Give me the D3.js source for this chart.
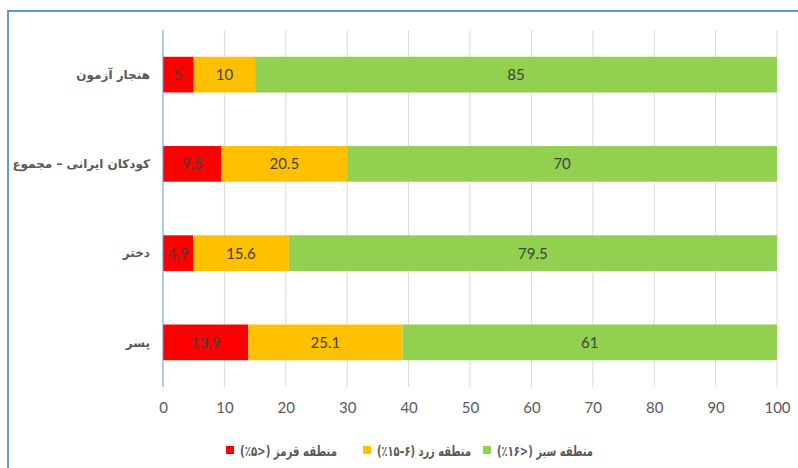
<!DOCTYPE html>
<html lang="fa">
<head>
  <meta charset="UTF-8">
  <title>مناطق</title>
  <script src="https://d3js.org/d3.v7.min.js"></script>
  <style>
    body { margin: 0; background: #fff; }
    svg { display: block; }
  </style>
</head>
<body>
  <svg width="798" height="468"></svg>

  <script>
    const categories = ["هنجار آزمون", "کودکان ایرانی – مجموع", "دختر", "پسر"];
    const redZone = [5, 9.5, 4.9, 13.9];
    const yellowZone = [10, 20.5, 15.6, 25.1];
    const greenZone = [85, 70, 79.5, 61];
    const seriesNames = ["منطقه قرمز (<۵٪)", "منطقه زرد (۶–۱۵٪)", "منطقه سبز (<۱۶٪)"];
    const xTicks = [0, 10, 20, 30, 40, 50, 60, 70, 80, 90, 100];

    const svg = d3.select("svg");
    const colors = ["#ff0000", "#ffc000", "#92d050"];
    const numFont = "Lato, 'Open Sans', sans-serif";

    // marco azul del gráfico
    svg.append("rect")
      .attr("x", 8).attr("y", 11)
      .attr("width", 800).attr("height", 470)
      .attr("fill", "none")
      .attr("stroke", "#5b9bd5")
      .attr("stroke-width", 2);

    const x = d3.scaleLinear().domain([0, 100]).range([163, 777]);
    const y = d3.scaleBand().domain(categories).range([30, 387]).paddingInner(0.6).paddingOuter(0.3);

    const rows = categories.map((c, i) => ({ cat: c, red: redZone[i], yellow: yellowZone[i], green: greenZone[i] }));
    const stack = d3.stack().keys(["red", "yellow", "green"])(rows);

    // grid
    svg.append("g")
      .selectAll("line")
      .data(xTicks.slice(1))
      .join("line")
      .attr("x1", d => x(d)).attr("x2", d => x(d))
      .attr("y1", 30).attr("y2", 387)
      .attr("stroke", "#d9d9d9")
      .attr("stroke-width", 1);

    const layer = svg.append("g")
      .selectAll("g")
      .data(stack)
      .join("g")
      .attr("fill", (d, i) => colors[i]);

    layer.selectAll("rect")
      .data(d => d)
      .join("rect")
      .attr("x", d => x(d[0]))
      .attr("width", d => x(d[1]) - x(d[0]))
      .attr("y", d => y(d.data.cat))
      .attr("height", y.bandwidth());

    layer.selectAll("text")
      .data(d => d.map(v => ({ v, val: v[1] - v[0] })))
      .join("text")
      .attr("x", d => (x(d.v[0]) + x(d.v[1])) / 2)
      .attr("y", d => y(d.v.data.cat) + y.bandwidth() / 2)
      .attr("dy", "0.36em")
      .attr("text-anchor", "middle")
      .attr("fill", "#404040")
      .attr("font-family", numFont)
      .attr("font-size", 15)
      .text(d => +d.val.toFixed(1));

    // eje vertical
    svg.append("line")
      .attr("x1", x(0)).attr("x2", x(0))
      .attr("y1", 30).attr("y2", 387)
      .attr("stroke", "#5b9bd5")
      .attr("stroke-width", 1);

    // etiquetas de categoría
    svg.append("g")
      .selectAll("text")
      .data(categories)
      .join("text")
      .attr("x", 150)
      .attr("y", d => y(d) + y.bandwidth() / 2)
      .attr("dy", "0.36em")
      .attr("text-anchor", "end")
      .attr("fill", "#595959")
      .attr("font-family", "'DejaVu Sans', sans-serif")
      .attr("font-weight", "bold")
      .attr("font-size", 12)
      .text(d => d);

    // leyenda: anchos medidos en la referencia
    const legendX = [226, 363, 483];
    const legendW = [97, 94, 96];

    // eje x
    const xAxis = svg.append("g")
      .attr("transform", "translate(0,387)")
      .call(d3.axisBottom(x).tickValues(xTicks).tickSize(0).tickPadding(15));
    xAxis.select(".domain").remove();
    xAxis.selectAll("text")
      .attr("fill", "#595959")
      .attr("font-family", numFont)
      .attr("font-size", 15);

    const legend = svg.append("g")
      .selectAll("g")
      .data(seriesNames)
      .join("g")
      .attr("transform", (d, i) => `translate(${legendX[i]},451)`);
    legend.append("rect")
      .attr("x", 0).attr("y", -5)
      .attr("width", 8).attr("height", 8)
      .attr("fill", (d, i) => colors[i]);
    legend.append("text")
      .attr("x", (d, i) => 14 + legendW[i])
      .attr("dy", "0.35em")
      .attr("fill", "#595959")
      .attr("font-family", "'DejaVu Sans', sans-serif")
      .attr("font-weight", "bold")
      .attr("font-size", 14)
      .attr("direction", "rtl")
      .attr("text-anchor", "start")
      .attr("textLength", (d, i) => legendW[i])
      .attr("lengthAdjust", "spacingAndGlyphs")
      .text(d => d);
  </script>
</body>
</html>
